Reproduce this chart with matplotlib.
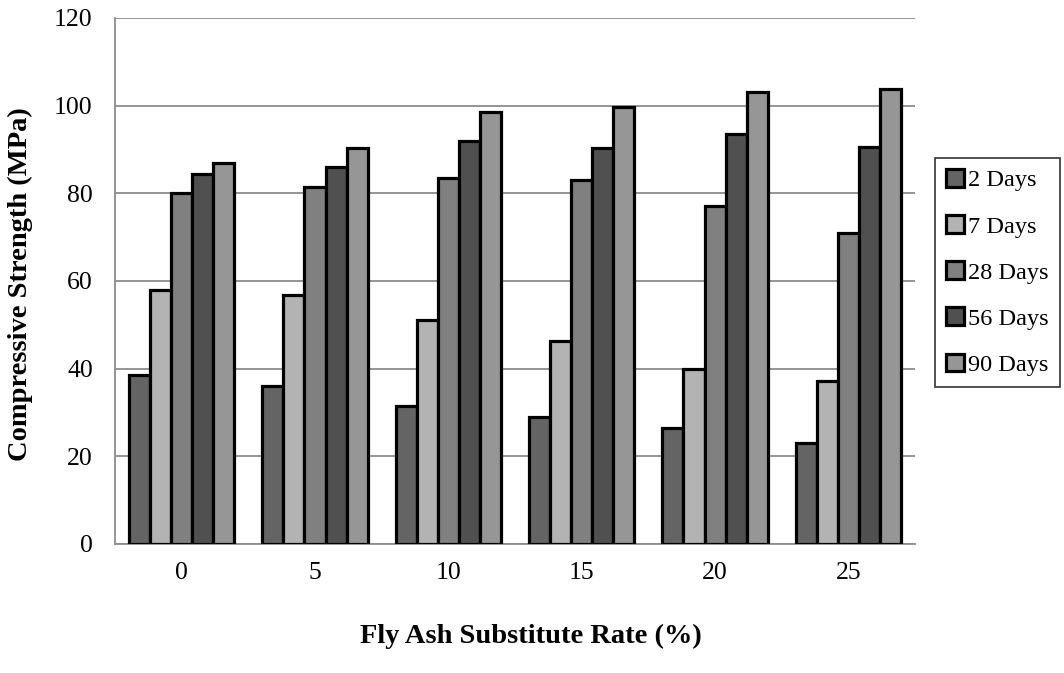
import matplotlib.pyplot as plt
import numpy as np

plt.rcParams['font.family'] = ['Liberation Serif', 'DejaVu Serif']

rates = ['0', '5', '10', '15', '20', '25']
ages = ['2 Days', '7 Days', '28 Days', '56 Days', '90 Days']

# compressive strength (MPa) per curing age, one value per fly ash rate
days_2 = [38.5, 36.0, 31.5, 29.0, 26.5, 23.0]
days_7 = [58.0, 56.8, 51.0, 46.2, 40.0, 37.2]
days_28 = [80.0, 81.5, 83.5, 83.0, 77.0, 71.0]
days_56 = [84.5, 86.0, 92.0, 90.3, 93.5, 90.6]
days_90 = [87.0, 90.3, 98.5, 99.8, 103.2, 103.8]

series = [days_2, days_7, days_28, days_56, days_90]
colors = ['#646464', '#b3b3b3', '#808080', '#505050', '#969696']

fig = plt.figure(figsize=(10.64, 6.73), dpi=100)
ax = fig.add_axes([0.1081, 0.1917, 0.7519, 0.7816])

x = np.arange(len(rates))
width = 0.158
for k, (vals, col, lab) in enumerate(zip(series, colors, ages)):
    ax.bar(x + (k - 2) * width, vals, width, color=col, edgecolor='black',
           linewidth=2.3, label=lab, zorder=3)

ax.set_xlim(-0.5, len(rates) - 0.5)
ax.set_ylim(0, 120)
ax.set_yticks(range(0, 121, 20))
ax.set_xticks(x)
ax.set_xticklabels(rates)
ax.tick_params(axis='both', length=0, labelsize=18.5)
ax.tick_params(axis='y', pad=16)
ax.tick_params(axis='x', pad=13)
ax.grid(axis='y', color='#8c8c8c', linewidth=1.3, zorder=0)

for side in ('top', 'right'):
    ax.spines[side].set_visible(False)
for side in ('left', 'bottom'):
    ax.spines[side].set_color('#8c8c8c')
    ax.spines[side].set_linewidth(1.3)

fig.text(0.019, 0.578, 'Compressive Strength (MPa)', fontsize=20.5,
         fontweight='bold', rotation=90, ha='center', va='center')
fig.text(0.499, 0.055, 'Fly Ash Substitute Rate (%)', fontsize=20.5,
         fontweight='bold', ha='center', va='center')

leg = ax.legend(loc='upper left', bbox_to_anchor=(0.879, 0.765),
                bbox_transform=fig.transFigure, fontsize=17.5, frameon=True,
                fancybox=False, edgecolor='black', handlelength=0.74,
                handleheight=0.74, handletextpad=0.16, labelspacing=0.98,
                borderpad=0.45, borderaxespad=0)
leg.get_frame().set_linewidth(1.2)

fig.savefig('out.png', dpi=100)
